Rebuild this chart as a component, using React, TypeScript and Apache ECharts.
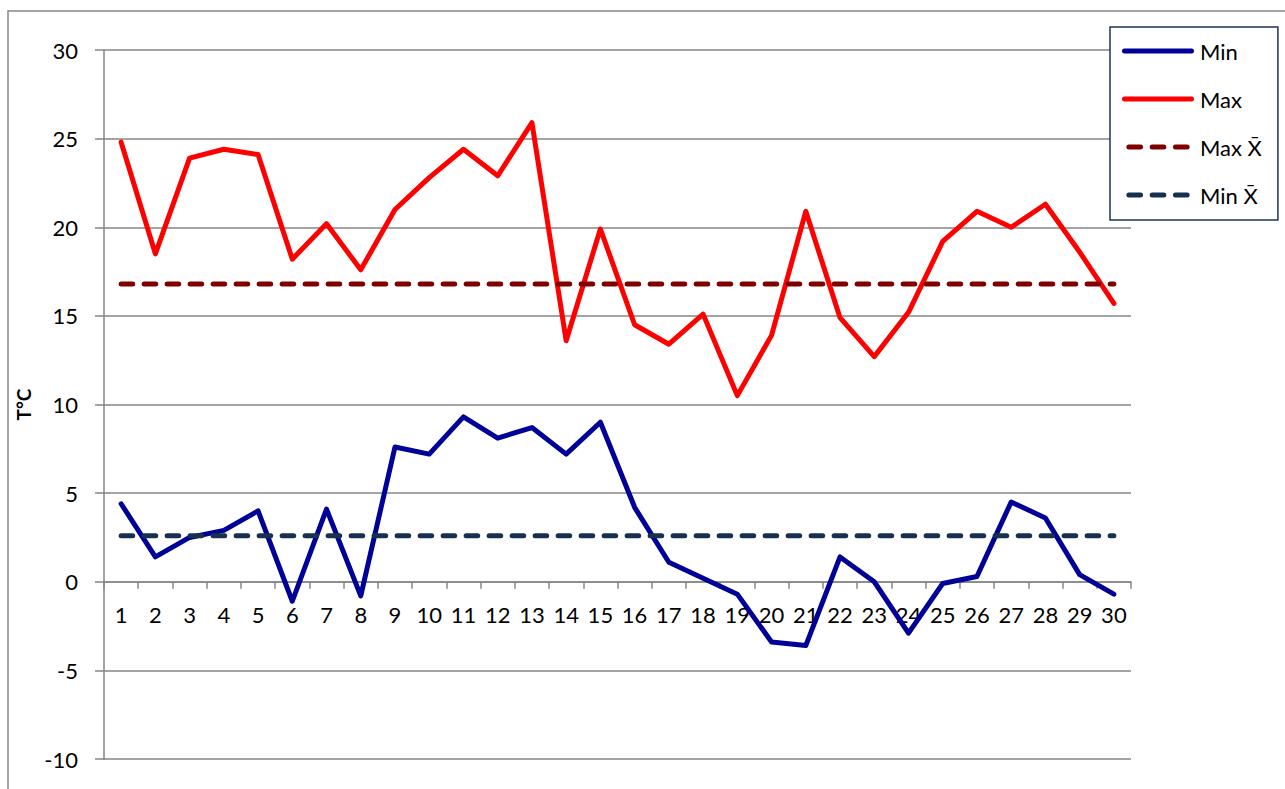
import React, { useEffect, useRef } from "react";
import * as echarts from "echarts";

const days: string[] = Array.from({ length: 30 }, (_, i) => String(i + 1));
const minTemps = [4.4, 1.4, 2.5, 2.9, 4.0, -1.1, 4.1, -0.8, 7.6, 7.2, 9.3, 8.1, 8.7, 7.2, 9.0, 4.2, 1.1, 0.2, -0.7, -3.4, -3.6, 1.4, 0.0, -2.9, -0.1, 0.3, 4.5, 3.6, 0.4, -0.7];
const maxTemps = [24.8, 18.5, 23.9, 24.4, 24.1, 18.2, 20.2, 17.6, 21.0, 22.8, 24.4, 22.9, 25.9, 13.6, 19.9, 14.5, 13.4, 15.1, 10.5, 13.9, 20.9, 14.9, 12.7, 15.2, 19.2, 20.9, 20.0, 21.3, 18.6, 15.7];
const maxMean = 16.8;
const minMean = 2.6;
const seriesNames = ["Min", "Max", "Max X\u0304", "Min X\u0304"];
const yMin = -10;
const yMax = 30;
const yStep = 5;

const FONT = "Lato, 'Open Sans', sans-serif";
const GRAY = "#868686";

// legend swatches: a solid rounded bar and three rounded dashes
const SOLID_ICON = "path://M2.5,0 H69.5 A2.5,2.5 0 0 1 69.5,5 H2.5 A2.5,2.5 0 0 1 2.5,0 Z";
const DASH_ICON =
  "path://M2.5,0 H14.2 A2.5,2.5 0 0 1 14.2,5 H2.5 A2.5,2.5 0 0 1 2.5,0 Z " +
  "M25.8,0 H37.5 A2.5,2.5 0 0 1 37.5,5 H25.8 A2.5,2.5 0 0 1 25.8,0 Z " +
  "M49.1,0 H60.8 A2.5,2.5 0 0 1 60.8,5 H49.1 A2.5,2.5 0 0 1 49.1,0 Z";

export default function App() {
  const ref = useRef<HTMLDivElement>(null);
  useEffect(() => {
    if (!ref.current) return;
    const chart = echarts.init(ref.current, null, { renderer: "svg" });
    const lineW = 5;
    chart.setOption({
      animation: false,
      backgroundColor: "#ffffff",
      textStyle: { fontFamily: FONT },
      grid: { left: 104, top: 50, right: 154, bottom: 30, containLabel: false, outerBoundsMode: "none" },
      legend: {
        orient: "vertical",
        left: 1110,
        top: 27,
        padding: [13, 16, 14, 12],
        itemWidth: 72,
        itemHeight: 5,
        itemGap: 26,
        symbolKeepAspect: true,
        backgroundColor: "#ffffff",
        borderColor: "#1F3552",
        borderWidth: 1.5,
        borderRadius: 0,
        textStyle: { fontFamily: FONT, fontSize: 22, color: "#000000", padding: [0, 0, 0, 1] },
        data: [
          { name: seriesNames[0], icon: SOLID_ICON },
          { name: seriesNames[1], icon: SOLID_ICON },
          { name: seriesNames[2], icon: DASH_ICON },
          { name: seriesNames[3], icon: DASH_ICON },
        ],
      },
      xAxis: {
        type: "category",
        data: days,
        boundaryGap: true,
        offset: -177.25,
        axisLine: { onZero: false, lineStyle: { color: GRAY, width: 1.5 } },
        axisTick: { show: true, length: 7, lineStyle: { color: GRAY, width: 1.5 } },
        axisLabel: { interval: 0, margin: 22, fontSize: 22, color: "#000000", fontFamily: FONT },
        splitLine: { show: false },
      },
      yAxis: {
        type: "value",
        min: yMin,
        max: yMax,
        interval: yStep,
        name: "T°C",
        nameLocation: "middle",
        nameGap: 68,
        nameRotate: 90,
        nameTextStyle: { fontFamily: FONT, fontSize: 19, fontWeight: "bold", color: "#000000" },
        axisLine: { show: true, onZero: false, lineStyle: { color: GRAY, width: 1.5 } },
        axisTick: { show: true, length: 9, lineStyle: { color: GRAY, width: 1.5 } },
        axisLabel: { margin: 26, fontSize: 22, color: "#000000", fontFamily: FONT },
        splitLine: { show: true, lineStyle: { color: GRAY, width: 1.5 } },
      },
      graphic: [
        {
          type: "rect",
          shape: { x: 8, y: 11, width: 1300, height: 800 },
          style: { fill: "none", stroke: GRAY, lineWidth: 1.5 },
          silent: true,
          z: -10,
        },
      ],
      series: [
        {
          name: seriesNames[0],
          type: "line",
          data: minTemps,
          symbol: "none",
          itemStyle: { color: "#000099" },
          lineStyle: { color: "#000099", width: lineW, cap: "round", join: "round" },
        },
        {
          name: seriesNames[1],
          type: "line",
          data: maxTemps,
          symbol: "none",
          itemStyle: { color: "#FF0000" },
          lineStyle: { color: "#FF0000", width: lineW, cap: "round", join: "round" },
        },
        {
          name: seriesNames[2],
          type: "line",
          data: days.map(() => maxMean),
          symbol: "none",
          itemStyle: { color: "#800000" },
          lineStyle: { color: "#800000", width: lineW, type: [11.6, 11.4], cap: "round" },
        },
        {
          name: seriesNames[3],
          type: "line",
          data: days.map(() => minMean),
          symbol: "none",
          itemStyle: { color: "#17304F" },
          lineStyle: { color: "#17304F", width: lineW, type: [11.6, 11.4], cap: "round" },
        },
      ],
    });
    return () => chart.dispose();
  }, []);
  return (
    <div
      ref={ref}
      style={{ position: "fixed", left: 0, top: 0, width: 1285, height: 789, background: "#fff" }}
    />
  );
}
